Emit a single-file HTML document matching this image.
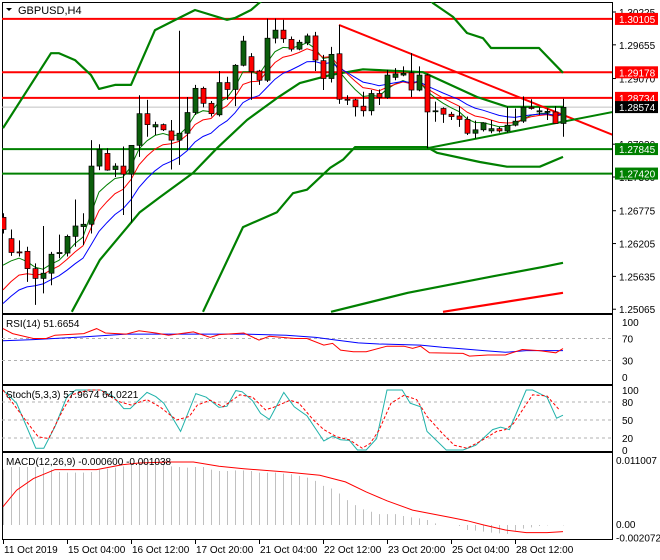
<!DOCTYPE html>
<html><head><meta charset="utf-8"><style>
body{margin:0;background:#fff;}
svg{display:block;font-family:"Liberation Sans",sans-serif;font-size:10px;}
</style></head><body>
<svg id="chart" width="660" height="560" viewBox="0 0 660 560">
<defs>
<clipPath id="cm"><rect x="2" y="2" width="610" height="311"/></clipPath>
<clipPath id="cr"><rect x="2" y="315" width="610" height="69"/></clipPath>
<clipPath id="cs"><rect x="2" y="386" width="610" height="65"/></clipPath>
<clipPath id="cd"><rect x="2" y="453" width="610" height="86"/></clipPath>
</defs>
<rect x="0" y="0" width="660" height="560" fill="#fff"/>
<g id="frames" fill="none" stroke="#000" stroke-width="1">
<rect x="2.5" y="2.5" width="610" height="311"/>
<rect x="2.5" y="314.5" width="610" height="70"/>
<rect x="2.5" y="385.5" width="610" height="66"/>
<rect x="2.5" y="452.5" width="610" height="87"/>
</g>
<g id="main" clip-path="url(#cm)"></g>
<g id="rsi" clip-path="url(#cr)"></g>
<g id="sto" clip-path="url(#cs)"></g>
<g id="macd" clip-path="url(#cd)"></g>
<g id="axes"></g>
<text x="18" y="14" font-size="11">GBPUSD,H4</text>
<path d="M6 8 L12 8 L9 11 Z" fill="#000"/>
<text x="6" y="327" font-size="10">RSI(14) 51.6654</text>
<text x="6" y="398" font-size="10">Stoch(5,3,3) 57.9674 64.0221</text>
<text x="6" y="465" font-size="10">MACD(12,26,9) -0.000600 -0.001038</text>
</svg>
<script>
// ---- data ----
const opens =[1.2666,1.2629,1.2606,1.2607,1.2577,1.2560,1.2569,1.2603,1.2604,1.2633,1.2650,1.2654,1.2755,1.2777,1.2749,1.2755,1.2741,1.2791,1.2846,1.2823,1.2827,1.2816,1.2800,1.2812,1.2848,1.2890,1.2864,1.2844,1.2900,1.2888,1.2930,1.2945,1.2920,1.2904,1.2977,1.2991,1.2975,1.2958,1.2969,1.2981,1.2938,1.2907,1.2950,1.2871,1.2870,1.2859,1.2851,1.2881,1.2874,1.2909,1.2913,1.2917,1.2887,1.2913,1.2851,1.2855,1.2845,1.2842,1.2836,1.2812,1.2818,1.2816,1.2820,1.2816,1.2826,1.2833,1.2857,1.2849,1.2849,1.2849,1.2829];
const highs =[1.2673,1.2645,1.2626,1.2615,1.2586,1.2651,1.2606,1.2636,1.2636,1.2697,1.2673,1.2800,1.2793,1.2786,1.2760,1.2789,1.2791,1.2878,1.2870,1.2832,1.2829,1.2835,1.2990,1.2875,1.2896,1.2893,1.2868,1.2920,1.2910,1.2932,1.2981,1.2951,1.2922,1.3011,1.3011,1.3009,1.2980,1.2974,1.2985,1.2988,1.2948,1.2962,1.3000,1.2878,1.2872,1.2884,1.2887,1.2888,1.2922,1.2925,1.2928,1.2951,1.2928,1.2915,1.2867,1.2857,1.2849,1.2859,1.2841,1.2834,1.2831,1.2835,1.2823,1.2858,1.2855,1.2876,1.2871,1.2857,1.2855,1.2859,1.2872];
const lows  =[1.2638,1.2599,1.2598,1.2554,1.2514,1.2534,1.2548,1.2595,1.2598,1.2615,1.2618,1.2638,1.2748,1.2747,1.2736,1.2670,1.2657,1.2771,1.2806,1.2809,1.2816,1.2749,1.2757,1.2783,1.2844,1.2857,1.2841,1.2841,1.2870,1.2859,1.2928,1.2870,1.2896,1.2901,1.2968,1.2969,1.2954,1.2956,1.2965,1.2920,1.2887,1.2900,1.2863,1.2861,1.2841,1.2841,1.2843,1.2861,1.2872,1.2904,1.2911,1.2875,1.2885,1.2786,1.2832,1.2830,1.2835,1.2823,1.2809,1.2803,1.2815,1.2812,1.2813,1.2813,1.2824,1.2830,1.2853,1.2844,1.2835,1.2829,1.2806];
const closes=[1.2645,1.2605,1.2605,1.2577,1.2560,1.2569,1.2602,1.2605,1.2633,1.2651,1.2654,1.2755,1.2784,1.2748,1.2755,1.2741,1.2791,1.2846,1.2827,1.2827,1.2818,1.2800,1.2812,1.2848,1.2890,1.2864,1.2846,1.2900,1.2888,1.2930,1.2972,1.2919,1.2904,1.2977,1.2991,1.2976,1.2958,1.2970,1.2981,1.2939,1.2907,1.2949,1.2871,1.2870,1.2858,1.2851,1.2881,1.2874,1.2913,1.2915,1.2916,1.2887,1.2913,1.2849,1.2851,1.2845,1.2841,1.2836,1.2812,1.2818,1.2830,1.2820,1.2816,1.2826,1.2833,1.2857,1.2855,1.2851,1.2850,1.2829,1.2857];
const maSeeds=[1.2552,1.2510,1.2495];
const maPeriods=[5,8,13];
const bandAIdx=[0,6,7,9,11,12,14,16,19,22,24,28,29,31,32,33,53,53.75,56.25,58,60,61,67,70];
const bandAVal=[1.2821,1.2951,1.2951,1.2939,1.2913,1.2889,1.2896,1.2896,1.2991,1.3012,1.3026,1.3009,1.3012,1.3026,1.3038,1.3050,1.3050,1.3038,1.3014,1.2986,1.2977,1.2960,1.2960,1.2917];
const bandBIdx=[8.6,12.1,17.1,19.6,23.75,26.75,30.5,34.25,37.1,40.9,45,52.5,59.25,63,70];
const bandBVal=[1.2502,1.2592,1.2675,1.2701,1.2743,1.2786,1.2835,1.2873,1.2899,1.2913,1.2923,1.2918,1.2875,1.2858,1.2858];
const bandCIdx=[25,30,34.25,36.25,38,40.9,42.5,44,53,54.25,59.6,63,67.1,70];
const bandCVal=[1.2502,1.2649,1.2675,1.2708,1.2714,1.2752,1.2766,1.2788,1.2788,1.2778,1.2762,1.2754,1.2754,1.2771];
const slowGIdx=[41,50.6,61.4,67.5,70];
const slowGVal=[1.2502,1.2535,1.2564,1.2580,1.2587];
const slowRIdx=[55,70];
const slowRVal=[1.2502,1.2535];
const resLevels=[1.30105,1.29178,1.28734];
const supLevels=[1.27845,1.27420];
const bidPrice=1.28574;
const downTrend=[[42,1.3000],[76.25,1.2809]];
const upTrend=[[53,1.2786],[76.25,1.2849]];
const priceTicks=["1.30225","1.29655","1.29070","1.27930","1.27360","1.26775","1.26205","1.25635","1.25065"];
const rsiIdx=[0,1.2,3.8,5.4,6.5,10.1,11.7,12.8,15.4,17,19.1,20.7,23.8,25.9,27,30.1,32,33.3,36.5,38,40.1,41.2,42.2,43.8,45.4,48,50.1,51.2,52.2,53.3,57.5,58.3,60.6,62.8,64.9,67,69.1,70];
const rsiVal=[88,79,70,70,76,79,88,80,78,84,80,76,82,72,77,80,67,74,70,70,58,61,49,46,46,56,56,52,56,44,43,38,40,40,50,48,44,51.7];
const rsiMaIdx=[0,3.8,10.1,15.4,30.1,35.4,39.1,41.7,44.4,47,52.2,54.9,57.5,60.1,62.8,65.4,70];
const rsiMaVal=[66,68,73,78,78,76,72,67,62,60,58,54,51,48,45,48,48];
const rsiTicks=[100,70,30,0];
const stoKIdx=[0,1.7,4.1,5.1,6.5,8,9.1,12.2,13.8,15.1,15.9,18,19.1,20.1,22.2,24.1,25.4,27,28,29.1,29.9,31.2,32.2,33.3,35.1,36.4,38,40.1,41.2,42.2,43.3,44.3,45.4,46.7,48,49.9,50.9,52.2,53,55.4,57.5,59.1,61.2,62.2,63.3,65.4,66.2,68,69.2,70];
const stoKVal=[100,78,3,3,39,89,100,100,89,69,69,96,89,78,31,94,88,71,73,99,97,82,61,51,96,72,57,15,23,17,16,0,0,19,100,100,78,72,31,0,0,8,34,38,34,100,100,88,53,58];
const stoDIdx=[0,2.8,4.4,5.7,7.5,8.6,10.7,12.2,14.4,16,18,19.6,21.7,23.3,24.3,25.9,27.5,29.6,31.2,32.8,33.8,35.9,37,38.8,40.1,41.7,43.3,44.9,45.9,47,48.5,50.1,51.7,53,54.9,56.4,58,59.6,61.7,62.8,63.8,66.2,68,69.6];
const stoDVal=[100,50,22,19,67,92,100,100,81,75,84,72,50,56,75,83,72,92,88,67,71,83,78,50,34,22,17,3,11,33,78,91,84,56,28,8,3,14,31,34,44,92,90,66];
const stoTicks=[100,80,50,20,0];
const macdHist=[0.00952,0.00998,0.00998,0.00998,0.00998,0.00986,0.00952,0.00912,0.00901,0.00901,0.00901,0.00912,0.00952,0.00969,0.00986,0.01009,0.01032,0.01049,0.01060,0.01066,0.01043,0.01009,0.00998,0.00986,0.00998,0.00998,0.00952,0.00929,0.00929,0.00940,0.00940,0.00929,0.00901,0.00901,0.00901,0.00884,0.00872,0.00844,0.00815,0.00758,0.00673,0.00627,0.00542,0.00428,0.00342,0.00268,0.00228,0.00188,0.00188,0.00188,0.00154,0.00131,0.00114,0.00086,0.00029,0,0,-0.00017,-0.00086,-0.00097,-0.00114,-0.00131,-0.00143,-0.00154,-0.00097,-0.00063,-0.00040,-0.00017,-0.00006,0,-0.00006];
const macdSigIdx=[0,1.7,3.8,6.5,11.7,14.9,17,20.7,23.8,27,30.1,35.4,39.6,42.8,45.4,48,51.2,53.3,55.9,58,60.1,62.8,65.4,68,70];
const macdSigVal=[0.00314,0.00599,0.00798,0.00952,0.00952,0.01037,0.01066,0.01083,0.01083,0.01009,0.00969,0.00912,0.00855,0.00741,0.00570,0.00416,0.00257,0.00200,0.00131,0.00074,0,-0.00086,-0.00131,-0.00131,-0.00114];
const dateLabels=["11 Oct 2019","15 Oct 04:00","16 Oct 12:00","17 Oct 20:00","21 Oct 04:00","22 Oct 12:00","23 Oct 20:00","25 Oct 04:00","28 Oct 12:00"];

// ---- scales ----
const NS="http://www.w3.org/2000/svg";
const xI=i=>3+8*i;
const yP=p=>12+(1.30225-p)*5760;
const yR=v=>377-v*0.55;
const yS=v=>450-v*0.6;
const yM=v=>525-v*5815;
function mk(tag,attrs,parent){const e=document.createElementNS(NS,tag);for(const k in attrs)e.setAttribute(k,attrs[k]);parent.appendChild(e);return e;}
function pts(idx,vals,ys){return idx.map((i,k)=>xI(i).toFixed(1)+","+ys(vals[k]).toFixed(1)).join(" ");}
const gMain=document.getElementById('main'),gR=document.getElementById('rsi'),gS=document.getElementById('sto'),gD=document.getElementById('macd'),gA=document.getElementById('axes');

// horizontal levels
resLevels.forEach(p=>{const l=mk('line',{x1:2,x2:612,y1:yP(p),y2:yP(p),stroke:'#ff0000','stroke-width':2},gMain);

});
supLevels.forEach(p=>{const l=mk('line',{x1:2,x2:612,y1:yP(p),y2:yP(p),stroke:'#008000','stroke-width':2},gMain);

});
{const l=mk('line',{x1:2,x2:612,y1:yP(bidPrice),y2:yP(bidPrice),stroke:'#c0c0c0','stroke-width':1},gMain);

}

// bands
[[bandAIdx,bandAVal,'#008000','upper-band'],[bandBIdx,bandBVal,'#008000','lower-band'],[bandCIdx,bandCVal,'#008000','outer-lower-band'],[slowGIdx,slowGVal,'#008000','slow-ma-green'],[slowRIdx,slowRVal,'#ff0000','slow-ma-red']].forEach(b=>{
const pl=mk('polyline',{points:pts(b[0],b[1],yP),fill:'none',stroke:b[2],'stroke-width':2.2,'stroke-linejoin':'round'},gMain);

});

// trend lines
[[downTrend,'#ff0000','downtrend-line'],[upTrend,'#008000','uptrend-line']].forEach(t=>{
const l=mk('line',{x1:xI(t[0][0][0]),y1:yP(t[0][0][1]),x2:xI(t[0][1][0]),y2:yP(t[0][1][1]),stroke:t[1],'stroke-width':2},gMain);

});

// moving averages
const maColors=['#008000','#ff0000','#0000ff'];
maPeriods.forEach((per,k)=>{let e=maSeeds[k];const a=2/(per+1);const vals=[];closes.forEach(c=>{e=e+a*(c-e);vals.push(e);});
const pl=mk('polyline',{points:pts(closes.map((_,i)=>i),vals,yP),fill:'none',stroke:maColors[k],'stroke-width':1},gMain);

});

// candles
closes.forEach((c,i)=>{const o=opens[i],x=xI(i),up=c>=o;
const w=mk('line',{x1:x+0.5,x2:x+0.5,y1:yP(highs[i]),y2:yP(lows[i]),stroke:'#000','stroke-width':1},gMain);


const top=yP(Math.max(o,c)),bot=yP(Math.min(o,c));
const r=mk('rect',{x:x-2,y:top,width:5,height:Math.max(1,bot-top),fill:up?'#0b5e0b':'#ff0000',stroke:'#000','stroke-width':0.7},gMain);

});

// price axis
mk('line',{x1:612.5,x2:612.5,y1:2,y2:540,stroke:'#000'},gA);
priceTicks.forEach(t=>{const y=yP(parseFloat(t));
mk('line',{x1:612,x2:616,y1:y,y2:y,stroke:'#000'},gA);
const tx=mk('text',{x:619,y:y+4,'font-size':10},gA);tx.textContent=t;

});
function tag(p,bg,fg,name){const y=yP(p);
const r=mk('rect',{x:615,y:y-6,width:43,height:12,fill:bg},gA);


const t=mk('text',{x:619,y:y+4,fill:fg,'font-size':10},gA);t.textContent=p.toFixed(5);

}
resLevels.forEach(p=>tag(p,'#ff0000','#fff','resistance-price-tag'));
supLevels.forEach(p=>tag(p,'#008000','#fff','support-price-tag'));
tag(bidPrice,'#000','#fff','bid-price-tag');

// RSI
[70,30].forEach(v=>{const l=mk('line',{x1:2,x2:612,y1:yR(v),y2:yR(v),stroke:'#b0b0b0','stroke-dasharray':'3,3'},gR);

});
{const a=mk('polyline',{points:pts(rsiMaIdx,rsiMaVal,yR),fill:'none',stroke:'#0000ff','stroke-width':1},gR);


const b=mk('polyline',{points:pts(rsiIdx,rsiVal,yR),fill:'none',stroke:'#ff0000','stroke-width':1},gR);

}
rsiTicks.forEach(v=>{const t=mk('text',{x:622,y:yR(v)+4,'font-size':10},gA);t.textContent=v;

});

// Stochastic
[80,50,20].forEach(v=>{const l=mk('line',{x1:2,x2:612,y1:yS(v),y2:yS(v),stroke:'#b0b0b0','stroke-dasharray':'3,3'},gS);

});
{const a=mk('polyline',{points:pts(stoKIdx,stoKVal,yS),fill:'none',stroke:'#20b2aa','stroke-width':1},gS);


const b=mk('polyline',{points:pts(stoDIdx,stoDVal,yS),fill:'none',stroke:'#ff0000','stroke-width':1,'stroke-dasharray':'3,2'},gS);

}
stoTicks.forEach(v=>{const t=mk('text',{x:622,y:yS(v)+4,'font-size':10},gA);t.textContent=v;

});

// MACD
macdHist.forEach((v,i)=>{const l=mk('line',{x1:xI(i)+0.5,x2:xI(i)+0.5,y1:yM(0),y2:yM(v),stroke:'#c0c0c0','stroke-width':1},gD);

});
{const s=mk('polyline',{points:pts(macdSigIdx,macdSigVal,yM),fill:'none',stroke:'#ff0000','stroke-width':1},gD);

}
[["0.011007",0.011007],["0.00",0],["-0.002072",-0.0020]].forEach(t=>{const tx=mk('text',{x:616,y:yM(t[1])+(t[1]<0?5:3),'font-size':10},gA);tx.textContent=t[0];

});

// date axis
dateLabels.forEach((d,k)=>{const x=xI(k*8);
mk('line',{x1:x+0.5,x2:x+0.5,y1:540,y2:544,stroke:'#000'},gA);
const t=mk('text',{x:x+1,y:553,'font-size':10},gA);t.textContent=d;

});
</script>
</body></html>
